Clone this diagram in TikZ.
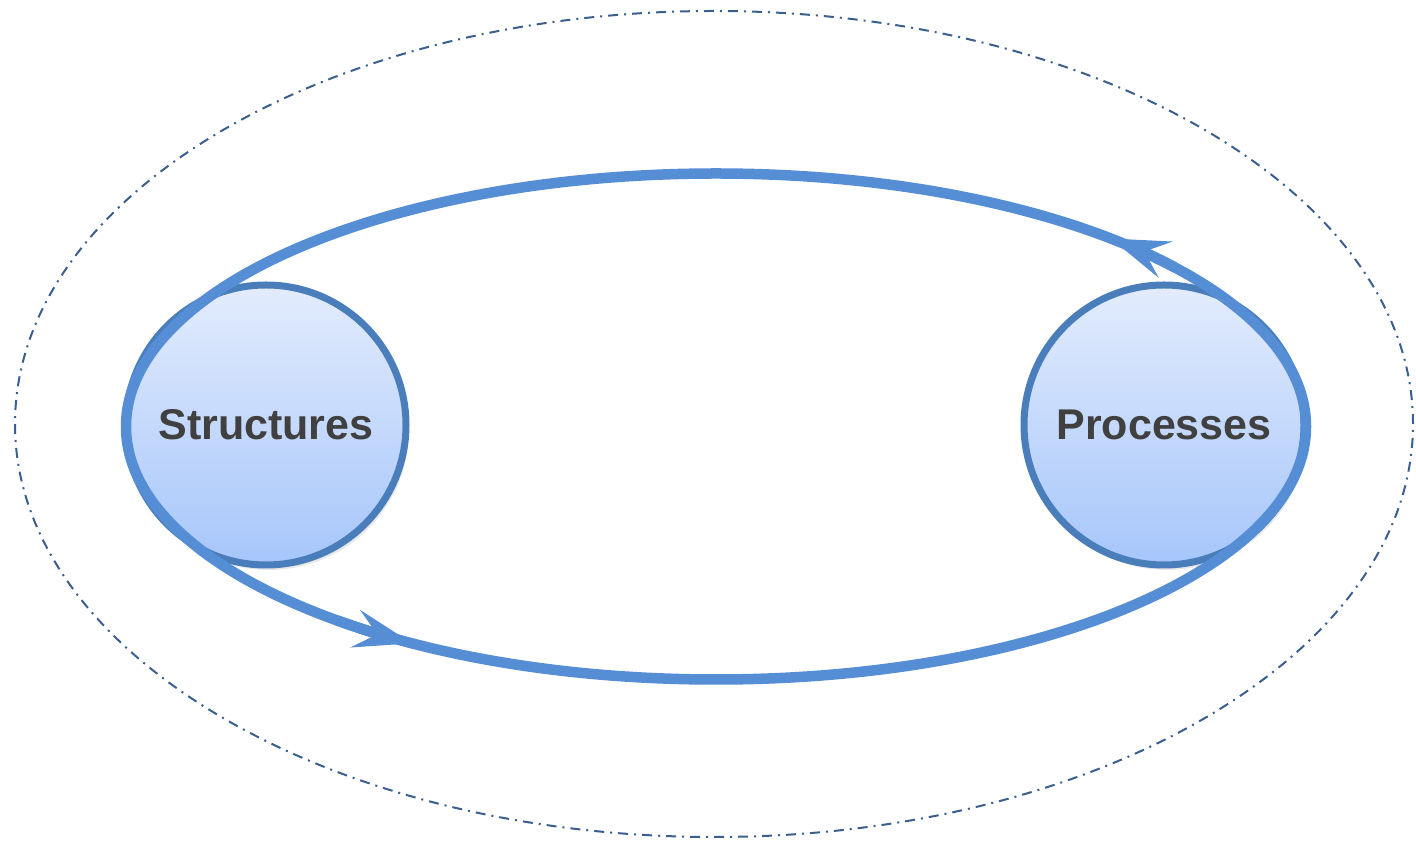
\documentclass[tikz,border=0pt]{standalone}
\usepackage{fontspec}
\setmainfont{Liberation Sans}
\usetikzlibrary{arrows.meta,shadows}
\definecolor{cycleblue}{HTML}{568ED6}
\definecolor{ringblue}{HTML}{4A7EBB}
\definecolor{topfill}{HTML}{E3ECFD}
\definecolor{botfill}{HTML}{A6C6FA}
\definecolor{txtgray}{HTML}{404040}
\definecolor{outerline}{HTML}{3A5F8F}
\begin{document}
\begin{tikzpicture}[x=1pt,y=1pt,
  bubble/.style={circle, draw=ringblue, line width=7pt, top color=topfill, bottom color=botfill,
    minimum size=280pt, inner sep=0pt, font=\fontsize{43}{50}\selectfont\bfseries, text=txtgray,
    drop shadow={shadow xshift=3pt, shadow yshift=-5pt, opacity=0.18}},
  cyclepath/.style={draw=cycleblue, line width=10.5pt},
  flowtip/.style={-{Stealth[length=58pt,width=38pt,inset=22pt]}},
  boundary/.style={draw=outerline, line width=2pt, dash pattern=on 10pt off 6pt on 2pt off 6pt}
]
\useasboundingbox (0,0) rectangle (1416,843);
\coordinate (O) at (714,419);
\coordinate (C) at (716,416.5);
\draw[boundary] (O) ellipse[x radius=699pt, y radius=413pt];
\node[bubble] (S) at (266,418) {Structures};
\node[bubble] (P) at (1164,418) {Processes};
\draw[cyclepath] (C) ellipse[x radius=590pt, y radius=253pt];
\draw[cyclepath, flowtip] (C) ++(39:590pt and 253pt) arc[start angle=39, end angle=48, x radius=590pt, y radius=253pt];
\draw[cyclepath, flowtip] (C) ++(230:590pt and 253pt) arc[start angle=230, end angle=239, x radius=590pt, y radius=253pt];
\end{tikzpicture}
\end{document}
